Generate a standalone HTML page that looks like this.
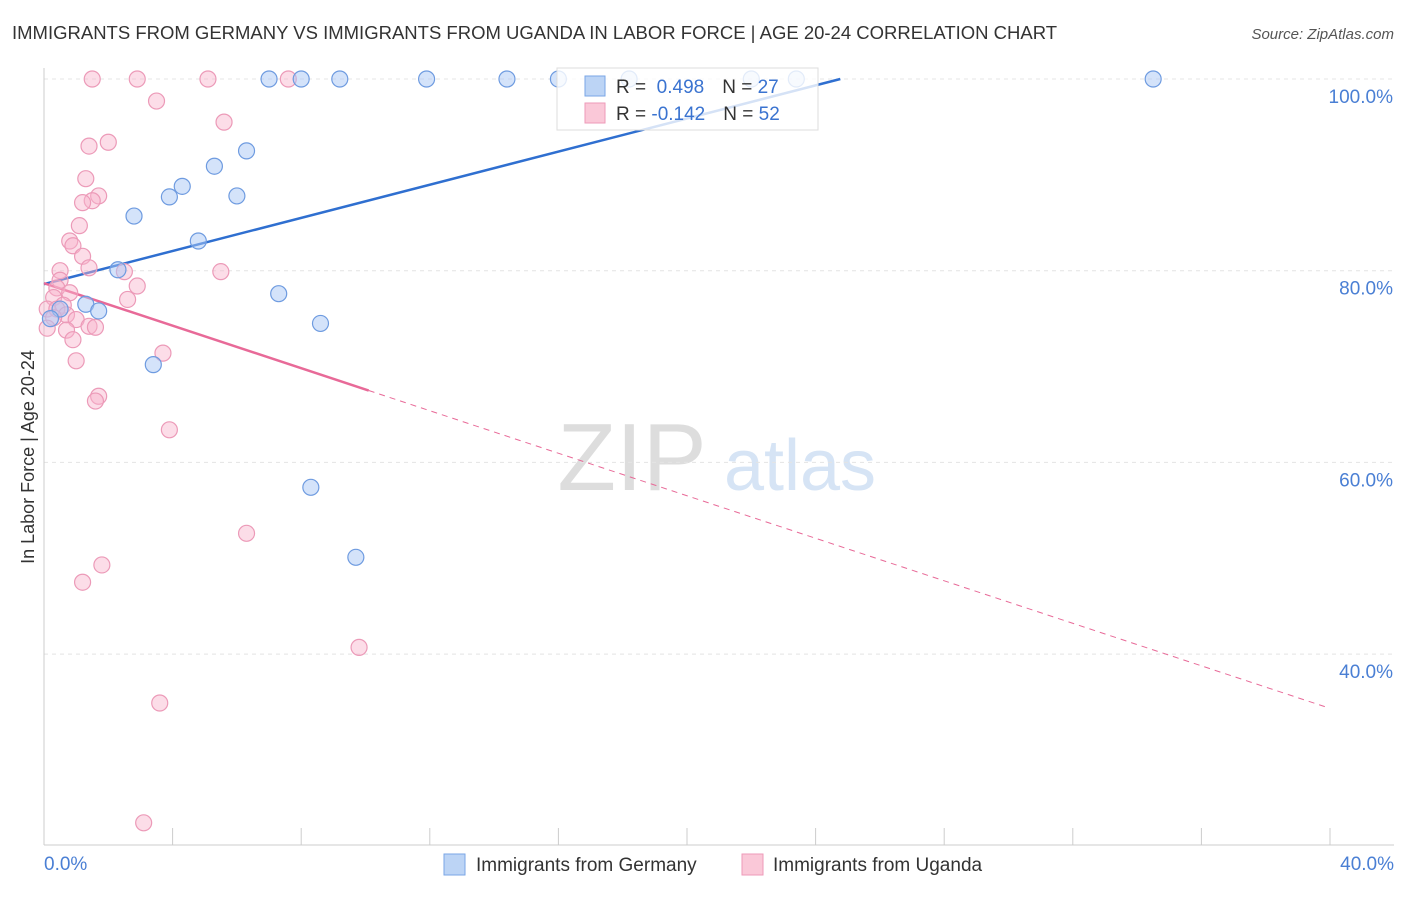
<!DOCTYPE html>
<html><head><meta charset="utf-8"><style>
body{margin:0;background:#fff;font-family:"Liberation Sans",sans-serif;}
svg text{font-family:"Liberation Sans",sans-serif;}
</style></head><body>
<svg id="chart" width="1406" height="892" xmlns="http://www.w3.org/2000/svg">
<text x="12" y="39" font-size="18.5" fill="#333">IMMIGRANTS FROM GERMANY VS IMMIGRANTS FROM UGANDA IN LABOR FORCE | AGE 20-24 CORRELATION CHART</text>
<text x="1394" y="39" font-size="15" fill="#555" font-style="italic" text-anchor="end">Source: ZipAtlas.com</text>
<g>
<text x="632" y="490" font-size="96" font-family="Liberation Serif" fill="#ddd" text-anchor="middle">ZIP</text>
<text x="800" y="490" font-size="72" fill="#d6e4f5" text-anchor="middle">atlas</text>
</g>
<g id="grid"></g><g id="axes"></g><g id="trends"></g><g id="pts"></g>
<text transform="translate(34,457) rotate(-90)" font-size="18" fill="#333" text-anchor="middle">In Labor Force | Age 20-24</text>
<g>
<rect x="557" y="68" width="261" height="62" fill="#fff" fill-opacity="0.8" stroke="#ddd"/>
<rect x="585" y="76" width="20" height="20" fill="#bcd4f5" stroke="#7aa6e6"/>
<rect x="585" y="103" width="20" height="20" fill="#fac8d8" stroke="#ee9ab8"/>
<text x="616" y="93" font-size="19" fill="#333">R = <tspan fill="#3a73d0">&#160;0.498</tspan><tspan dx="18">N = </tspan><tspan fill="#3a73d0">27</tspan></text>
<text x="616" y="120" font-size="19" fill="#333">R = <tspan fill="#3a73d0">-0.142</tspan><tspan dx="18">N = </tspan><tspan fill="#3a73d0">52</tspan></text>
</g>
<g>
<rect x="444" y="854" width="21" height="21" fill="#bcd4f5" stroke="#7aa6e6"/>
<text x="476" y="871" font-size="19" fill="#333">Immigrants from Germany</text>
<rect x="742" y="854" width="21" height="21" fill="#fac8d8" stroke="#ee9ab8"/>
<text x="773" y="871" font-size="19" fill="#333">Immigrants from Uganda</text>
</g>
</svg>
<script>
const yTicks=[40,60,80,100];
const yTickLabels=["40.0%","60.0%","80.0%","100.0%"];
const xTickVals=[0,4,8,12,16,20,24,28,32,36,40];
const germanyX=[7.0,8.0,9.2,11.9,14.4,16.0,18.2,22.0,23.4,34.5,6.3,5.3,4.3,3.9,6.0,2.8,4.8,2.3,7.3,1.3,1.7,8.6,3.4,8.3,9.7,0.5,0.2];
const germanyY=[100,100,100,100,100,100,100,100,100,100,92.5,90.9,88.8,87.7,87.8,85.7,83.1,80.1,77.6,76.5,75.8,74.5,70.2,57.4,50.1,76.0,75.0];
const ugandaX=[1.5,2.9,5.1,7.6,3.5,5.6,2.0,1.4,1.3,1.7,1.5,1.2,1.1,0.8,0.9,1.2,1.4,0.5,2.5,5.5,0.5,0.4,2.9,0.8,2.6,0.3,0.1,0.6,0.4,0.7,1.0,0.3,1.4,1.6,0.7,0.1,0.9,3.7,1.0,1.7,1.6,3.9,1.8,1.2,6.3,9.8,3.6,3.1];
const ugandaY=[100,100,100,100,97.7,95.5,93.4,93.0,89.6,87.8,87.3,87.1,84.7,83.1,82.6,81.5,80.3,80.0,79.9,79.9,79.0,78.2,78.4,77.7,77.0,77.2,76.0,76.4,76.0,75.4,74.9,75.1,74.2,74.1,73.8,74.0,72.8,71.4,70.6,66.9,66.4,63.4,49.3,47.5,52.6,40.7,34.9,22.4];
const trendG=[78.6,0.864];const trendU=[78.7,-1.109];const uSolidEnd=10.1;
const X=v=>44+v*32.15, Y=v=>79+(100-v)*9.585;
const ns="http://www.w3.org/2000/svg";
function mk(p,t,a){const e=document.createElementNS(ns,t);for(const k in a)e.setAttribute(k,a[k]);document.getElementById(p).appendChild(e);return e;}
yTicks.forEach((v,i)=>{const g=mk('grid','line',{x1:44,x2:1394,y1:Y(v),y2:Y(v),stroke:'#e4e4e4','stroke-dasharray':'4,4'});


const t=mk('grid','text',{x:1393,y:Y(v)+24,'font-size':19,fill:'#4a7fd4','text-anchor':'end'});t.textContent=yTickLabels[i];

});
const ax=mk('axes','line',{x1:44,x2:44,y1:68,y2:845,stroke:'#ccc'});


const bx=mk('axes','line',{x1:44,x2:1394,y1:845,y2:845,stroke:'#ccc'});


xTickVals.forEach(v=>{const l=mk('axes','line',{x1:X(v),x2:X(v),y1:828,y2:845,stroke:'#ccc'});

});
[[0,"0.0%",'start',44],[40,"40.0%",'end',1394]].forEach(a=>{const t=mk('axes','text',{x:a[3],y:870,'font-size':19,fill:'#4a7fd4','text-anchor':a[2]});t.textContent=a[1];

});
const xEndG=(100-trendG[0])/trendG[1];
let l=mk('trends','line',{x1:X(0),y1:Y(trendG[0]),x2:X(xEndG),y2:Y(100),stroke:'#2f6fd0','stroke-width':2.5});


l=mk('trends','line',{x1:X(0),y1:Y(trendU[0]),x2:X(uSolidEnd),y2:Y(trendU[0]+trendU[1]*uSolidEnd),stroke:'#e86a98','stroke-width':2.5});


l=mk('trends','line',{x1:X(uSolidEnd),y1:Y(trendU[0]+trendU[1]*uSolidEnd),x2:X(39.9),y2:Y(trendU[0]+trendU[1]*39.9),stroke:'#e86a98','stroke-width':1,'stroke-dasharray':'6,5'});


ugandaX.forEach((x,i)=>{const c=mk('pts','circle',{cx:X(x),cy:Y(ugandaY[i]),r:8,fill:'rgba(248,180,204,0.45)',stroke:'#ec9ab8','stroke-width':1.2});

});
germanyX.forEach((x,i)=>{const c=mk('pts','circle',{cx:X(x),cy:Y(germanyY[i]),r:8,fill:'rgba(170,200,245,0.5)',stroke:'#6e9be0','stroke-width':1.2});

});
</script>
</body></html>
